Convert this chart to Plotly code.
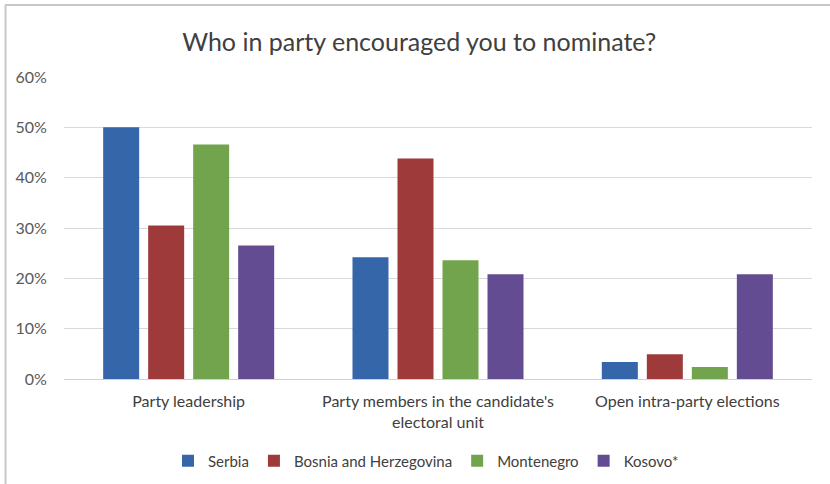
import plotly.graph_objects as go

categories = ["Party leadership",
              "Party members in the candidate's<br>electoral unit",
              "Open intra-party elections"]
serbia = [0.500, 0.242, 0.034]
bosnia = [0.305, 0.438, 0.049]
montenegro = [0.466, 0.236, 0.024]
kosovo = [0.265, 0.208, 0.208]
series_names = ["Serbia", "Bosnia and Herzegovina", "Montenegro", "Kosovo*"]
colors = ["#3566AA", "#9E3A39", "#72A44E", "#634C91"]
title = "Who in party encouraged you to nominate?"

font_family = "Lato, 'Open Sans', sans-serif"

fig = go.Figure()
for name, vals, col in zip(series_names, [serbia, bosnia, montenegro, kosovo], colors):
    fig.add_trace(go.Bar(
        x=categories, y=vals, name=name,
        marker=dict(color=col, line=dict(width=0)),
    ))

W, H = 830, 484
L, R, T, B = 64, 18, 77, 105
pw = W - L - R
ph = H - T - B

def px_to_paper_x(px):
    return (px - L) / pw

def px_to_paper_y(py):
    return (H - B - py) / ph

fig.update_layout(
    width=W, height=H,
    margin=dict(l=L, r=R, t=T, b=B, autoexpand=False),
    paper_bgcolor="white", plot_bgcolor="white",
    barmode="group", bargap=0.278, bargroupgap=0.2,
    title=dict(text=title, x=0.505, xanchor="center", y=1 - 42 / H, yanchor="middle",
               font=dict(family=font_family, size=25, color="#404040")),
    font=dict(family=font_family, size=16, color="#404040"),
    xaxis=dict(showgrid=False, showline=True, linecolor="#d0d0d0", linewidth=1,
               ticks="outside", ticklen=8, tickcolor="rgba(0,0,0,0)",
               tickfont=dict(size=16, color="#404040"), fixedrange=True),
    yaxis=dict(range=[0, 0.6], dtick=0.1, tickformat=".0%", showgrid=True,
               gridcolor="#d9d9d9", gridwidth=1, zeroline=False, showline=False,
               ticks="outside", ticklen=13, tickcolor="rgba(0,0,0,0)",
               tickfont=dict(size=16, color="#595959")),
    legend=dict(orientation="h", x=px_to_paper_x(426), xanchor="center", y=px_to_paper_y(461),
                yanchor="middle", font=dict(size=15, color="#404040"),
                itemwidth=30, traceorder="normal", itemsizing="constant"),
    showlegend=True,
)

# outer border (top and left visible in reference)
fig.add_shape(type="line", xref="paper", yref="paper",
              x0=px_to_paper_x(5), x1=px_to_paper_x(832),
              y0=px_to_paper_y(5), y1=px_to_paper_y(5),
              line=dict(color="#c8c8c8", width=2))
fig.add_shape(type="line", xref="paper", yref="paper",
              x0=px_to_paper_x(5.5), x1=px_to_paper_x(5.5),
              y0=px_to_paper_y(5), y1=px_to_paper_y(486),
              line=dict(color="#c8c8c8", width=2))

fig.write_html("out.html")
